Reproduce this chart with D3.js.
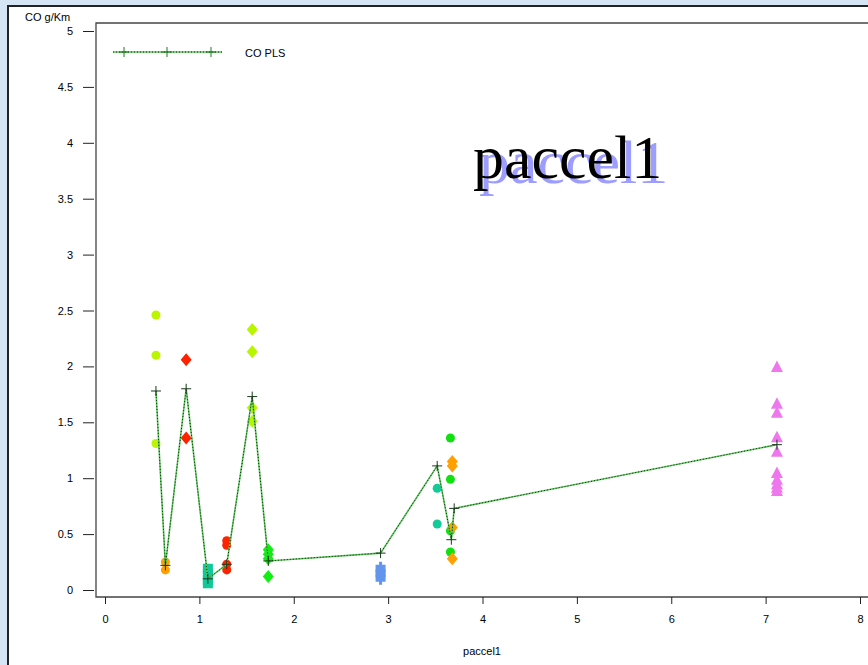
<!DOCTYPE html>
<html>
<head>
<meta charset="utf-8">
<script src="https://cdn.jsdelivr.net/npm/d3@7"></script>
<style>
  body { margin: 0; background: #d6e5f6; }
  svg { display: block; }
  .tick text { font-family: "Liberation Sans Narrow", "Liberation Sans", Arial, sans-serif; font-size: 11px; fill: #000; }
</style>
</head>
<body>
<div class="visHolder"></div>
<script>
// CO PLS line (model)
const lineX = [0.54, 0.64, 0.86, 1.09, 1.29, 1.56, 1.73, 2.92, 3.52, 3.67, 3.70, 7.12];
const lineY = [1.78, 0.22, 1.80, 0.10, 0.23, 1.73, 0.26, 0.33, 1.11, 0.45, 0.73, 1.30];

// measured points, one entry per group
const groupX = [0.54, 0.64, 0.86, 1.09, 1.29, 1.56, 1.73, 2.92, 3.52, 3.66, 3.68, 7.12];
const groupValues = [
  [2.46, 2.10, 1.31],
  [0.25, 0.18],
  [2.06, 1.36],
  [0.19, 0.14, 0.09, 0.06],
  [0.44, 0.40, 0.23, 0.18],
  [2.33, 2.13, 1.63, 1.51],
  [0.36, 0.32, 0.28, 0.12],
  [0.19, 0.15, 0.11],
  [0.91, 0.59],
  [1.36, 0.99, 0.53, 0.34],
  [1.15, 1.11, 0.56, 0.28],
  [2.00, 1.67, 1.59, 1.37, 1.24, 1.05, 0.99, 0.95, 0.92, 0.89]
];
const groupColors = ['#bdf500', '#ffa000', '#ff2200', '#10c898', '#ff2200', '#b8f500',
                     '#11ee11', '#6495ed', '#11cc99', '#11e011', '#ffa000', '#ee77ee'];
const groupShapes = ['circle', 'circle', 'diamond', 'square', 'circle', 'diamond',
                     'diamond', 'cross', 'circle', 'circle', 'diamond', 'triangle'];

const yTicks = [0, 0.5, 1, 1.5, 2, 2.5, 3, 3.5, 4, 4.5, 5];
const xTicks = [0, 1, 2, 3, 4, 5, 6, 7, 8];

const width = 868, height = 665;
const frameLeft = 96, frameTop = 23, frameBottom = 597;

const svg = d3.select('.visHolder').append('svg')
  .attr('width', width).attr('height', height);

// white panel
svg.append('rect').attr('x', 8).attr('y', 6).attr('width', 900).attr('height', 700)
  .attr('fill', '#fff').attr('stroke', '#222').attr('stroke-width', 2);

const xScale = d3.scaleLinear().domain([0, 8]).range([105, 860]);
const yScale = d3.scaleLinear().domain([0, 5]).range([590, 31]);

// frame
svg.append('path')
  .attr('d', `M${width + 5},${frameTop}H${frameLeft}V${frameBottom}H${width + 5}`)
  .attr('fill', 'none').attr('stroke', '#444').attr('stroke-width', 1.3);

const yAxis = d3.axisLeft(yScale).tickValues(yTicks).tickFormat(d3.format('')).tickSize(11).tickPadding(10);
svg.append('g').attr('transform', 'translate(94,0)').call(yAxis)
  .call(g => g.select('.domain').remove())
  .call(g => g.selectAll('.tick line').attr('stroke', '#222'));

const xAxis = d3.axisBottom(xScale).tickValues(xTicks).tickFormat(d3.format('d')).tickSize(7).tickPadding(11);
svg.append('g').attr('transform', `translate(0,${frameBottom})`).call(xAxis)
  .call(g => g.select('.domain').remove())
  .call(g => g.selectAll('.tick line').attr('stroke', '#222'));

const labelFont = '"Liberation Sans Narrow", "Liberation Sans", Arial, sans-serif';
svg.append('text').attr('x', 25).attr('y', 21).text('CO g/Km')
  .style('font-family', labelFont).style('font-size', '11px');
svg.append('text').attr('x', 482).attr('y', 655).attr('text-anchor', 'middle').text('paccel1')
  .style('font-family', labelFont).style('font-size', '11px');

// title with its blue shadow
svg.append('text').attr('x', 473).attr('y', 178).text('paccel1')
  .style('font-family', '"Liberation Serif", "Times New Roman", serif')
  .style('font-size', '62px').attr('fill', '#000')
  .style('text-shadow', '6px 5px 0 #9d9dff');

// marker shapes
const shapePath = {
  circle: d3.symbol(d3.symbolCircle, 64)(),
  square: 'M-5,-5H5V5H-5Z',
  diamond: 'M0,-6.5L5.5,0L0,6.5L-5.5,0Z',
  triangle: 'M0,-6L6,5.5H-6Z',
  cross: 'M-1.5,-7H1.5V-4H5V4H1.5V7H-1.5V4H-5V-4H-1.5Z'
};

const points = [];
groupX.forEach((x, gi) => {
  groupValues[gi].forEach(v => points.push({ x, v, gi }));
});

svg.append('g').selectAll('path')
  .data(points)
  .enter()
  .append('path')
  .attr('d', d => shapePath[groupShapes[d.gi]])
  .attr('transform', d => `translate(${xScale(d.x)},${yScale(d.v)})`)
  .attr('fill', d => groupColors[d.gi]);

// CO PLS line: light green with black dots
const lineColor = '#55c455';
const lineData = lineX.map((x, i) => [x, lineY[i]]);
const line = d3.line().x(d => xScale(d[0])).y(d => yScale(d[1]));
svg.append('path').datum(lineData).attr('d', line)
  .attr('fill', 'none').attr('stroke', lineColor).attr('stroke-width', 1.6);
svg.append('path').datum(lineData).attr('d', line)
  .attr('fill', 'none').attr('stroke', '#000').attr('stroke-width', 0.8).attr('stroke-dasharray', '1,2');

const plus = 'M-5,0H5M0,-5V5';
svg.append('g').selectAll('path')
  .data(lineData)
  .enter()
  .append('path')
  .attr('d', plus)
  .attr('transform', d => `translate(${xScale(d[0])},${yScale(d[1])})`)
  .attr('stroke', '#1a3a1a').attr('stroke-width', 1);

// legend
svg.append('line').attr('x1', 113).attr('x2', 222).attr('y1', 52).attr('y2', 52)
  .attr('stroke', lineColor).attr('stroke-width', 1.6);
svg.append('line').attr('x1', 113).attr('x2', 222).attr('y1', 52).attr('y2', 52)
  .attr('stroke', '#000').attr('stroke-width', 0.8).attr('stroke-dasharray', '1,2');
[124, 167, 211].forEach(px => {
  svg.append('path').attr('d', plus).attr('transform', `translate(${px},52)`)
    .attr('stroke', '#1a7a1a').attr('stroke-width', 1);
});
svg.append('text').attr('x', 245).attr('y', 57).text('CO PLS')
  .style('font-family', labelFont).style('font-size', '11px');
</script>
</body>
</html>
